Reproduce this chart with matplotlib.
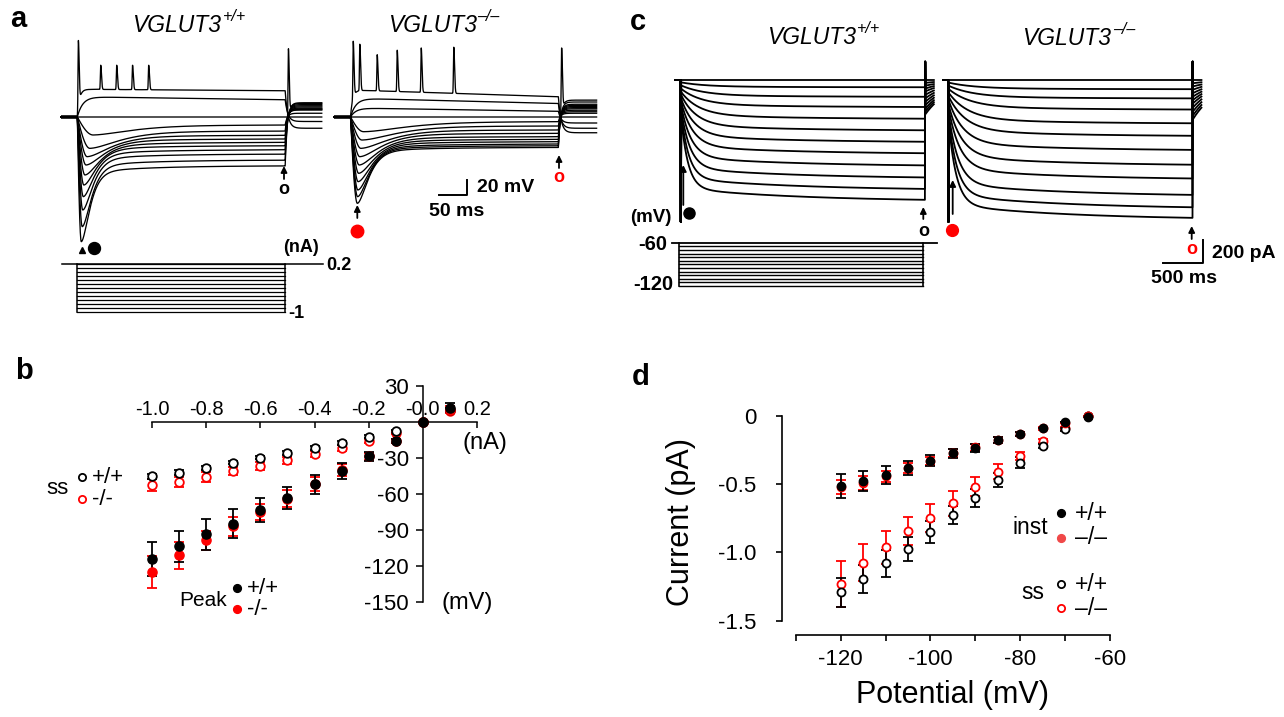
import numpy as np
import matplotlib
matplotlib.use("Agg")
import matplotlib.pyplot as plt

plt.rcParams['font.family'] = ['Liberation Sans', 'DejaVu Sans']
plt.rcParams['axes.unicode_minus'] = False

W, H = 1284, 717
fig = plt.figure(figsize=(W / 100, H / 100), dpi=100)
RED = '#ff0000'

# ===================== DATA =====================
# ---- panel a : current-clamp responses (mV relative to rest) ----
a_step_ms = 380
a_stim_nA = [0.2, 0.1, 0.0, -0.1, -0.2, -0.3, -0.4, -0.5, -0.6, -0.7, -0.8, -0.9, -1.0]
# VGLUT3+/+
a_wt_trough_mV = [-24, -41.8, -52.9, -64, -77.3, -90.7, -106.2, -124, -146.2, -166.2]
a_wt_trough_ms = [29, 23, 18, 16, 14, 12, 11, 10, 9, 7.3]
a_wt_end_mV = [-10.7, -18.7, -24.4, -29.3, -33.8, -38.2, -43.6, -49.3, -57.3, -64.9]
a_wt_after_mV = [5, 9.3, 10, 11, 12, 13.5, 15, 16.5, 18, 19]
a_wt_recov_ms = [45, 35, 28, 22, 18, 15, 13, 12, 11, 10]
a_wt_dep_plateau = [37, 27, 0]
a_wt_dep_end = [35, 23, 0]
a_wt_dep_after = [-15, -6, 0]
a_wt_spike_ms = [2, 42.8, 72, 101, 130.5]
a_wt_spike_mV = [102, 69, 69, 69, 69]
a_wt_rebound_mV = 91
# VGLUT3-/-
a_ko_trough_mV = [-19.6, -30.7, -41.8, -52.9, -64, -75.1, -86.2, -97.3, -106.2, -115.1]
a_ko_trough_ms = [24, 21, 19, 17, 16, 15, 14, 13.5, 13, 12.5]
a_ko_end_mV = [-6.2, -12, -17.3, -21.8, -26.2, -29.8, -32.9, -36, -38.2, -40.4]
a_ko_after_mV = [5, 7, 9, 11, 12.5, 14, 15.5, 17, 20, 22.5]
a_ko_recov_ms = [50, 40, 32, 26, 22, 19, 17, 15, 14, 13]
a_ko_dep_plateau = [36, 25, 12, 0]
a_ko_dep_end = [27, 18, 7.6, 0]
a_ko_dep_after = [-21, -15, -8, 0]
a_ko_spike_ms = [5, 17, 48.8, 85.4, 129.3, 188.8]
a_ko_spike_mV = [101, 97, 83, 89, 92, 93]
a_ko_rebound_mV = 92

# ---- panel b : V-I relation ----
b_nA = [-1.0, -0.9, -0.8, -0.7, -0.6, -0.5, -0.4, -0.3, -0.2, -0.1, 0.0, 0.1]
b_ss_wt = [-45.3, -42.2, -38.1, -33.9, -29.7, -25.8, -21.7, -17.5, -12.2, -7.8, 0, 10.3]
b_ss_wt_err = [2, 2, 1.5, 1.5, 1.5, 1.5, 1.5, 1.5, 1.5, 1, 0, 1]
b_ss_ko = [-52.8, -50, -45.8, -40.8, -36.7, -31.9, -26.9, -21.7, -15.8, -8.9, 0, 9.2]
b_ss_ko_err = [5, 4, 4, 3.5, 3, 3, 2.5, 2.5, 2, 1.5, 0, 1]
b_pk_wt = [-114.2, -103.6, -93.6, -84.7, -73.1, -63.1, -51.9, -40.8, -28.6, -15.8, 0, 12]
b_pk_wt_err = [14, 13, 13, 12, 10, 9, 8, 6.5, 4, 1.5, 0, 4]
b_pk_ko = [-125, -111.1, -98.6, -86.9, -75, -63.9, -51.9, -40.3, -28.6, -15.8, 0, 10.3]
b_pk_ko_err = [13.5, 11, 8, 8, 7, 7, 6, 5, 3, 1.5, 0, 3]
b_xticks = [-1.0, -0.8, -0.6, -0.4, -0.2, 0.0, 0.2]
b_xticklabels = ['-1.0', '-0.8', '-0.6', '-0.4', '-0.2', '-0.0', '0.2']
b_yticks = [30, -30, -60, -90, -120, -150]

# ---- panel c : voltage-clamp Ih currents (pA) ----
c_step_ms = 3000
c_stim_mV = [-65, -70, -75, -80, -85, -90, -95, -100, -105, -110, -115, -120]
c_hold_mV = -60
c_wt_ss = [0, -63, -146, -235, -337, -438, -538, -638, -744, -849, -949, -1044]
c_wt_inst = [0, -20, -45, -72, -98, -122, -150, -175, -200, -228, -252, -275]
c_wt_tau = [300, 300, 280, 250, 220, 190, 165, 145, 125, 110, 95, 85]
c_wt_tail = [0, -25, -50, -75, -100, -130, -160, -190, -220, -250, -275, -300]
c_ko_ss = [0, -80, -160, -257, -377, -486, -609, -738, -858, -1001, -1109, -1201]
c_ko_inst = [0, -22, -48, -75, -105, -135, -165, -200, -230, -265, -295, -325]
c_ko_tau = [320, 320, 300, 270, 240, 210, 180, 160, 140, 120, 105, 95]
c_ko_tail = [0, -28, -56, -85, -115, -145, -175, -205, -240, -275, -310, -343]
c_cap_on, c_cap_off = -1216, 157

# ---- panel d : I-V relation ----
d_mV = [-120, -115, -110, -105, -100, -95, -90, -85, -80, -75, -70, -65]
d_inst_wt = [-0.513, -0.477, -0.433, -0.379, -0.327, -0.274, -0.232, -0.176, -0.130, -0.088, -0.046, -0.005]
d_inst_wt_err = [0.086, 0.076, 0.067, 0.05, 0.04, 0.035, 0.03, 0.025, 0.015, 0.0, 0.0, 0.0]
d_inst_ko = [-0.52, -0.49, -0.44, -0.38, -0.33, -0.27, -0.23, -0.175, -0.13, -0.09, -0.05, 0.0]
d_inst_ko_err = [0.05, 0.05, 0.04, 0.035, 0.03, 0.03, 0.025, 0.02, 0.015, 0.01, 0.0, 0.0]
d_ss_wt = [-1.290, -1.195, -1.080, -0.973, -0.848, -0.726, -0.599, -0.469, -0.342, -0.218, -0.098, 0.0]
d_ss_wt_err = [0.106, 0.10, 0.098, 0.09, 0.08, 0.065, 0.065, 0.05, 0.04, 0.015, 0.01, 0.0]
d_ss_ko = [-1.229, -1.075, -0.963, -0.843, -0.748, -0.640, -0.518, -0.408, -0.293, -0.183, -0.09, 0.0]
d_ss_ko_err = [0.17, 0.137, 0.122, 0.105, 0.103, 0.093, 0.068, 0.056, 0.032, 0.015, 0.01, 0.0]


# ===================== HELPERS =====================
def px_axes(left, top, right, bottom, x0, y0, sx, sy):
    ax = fig.add_axes([left / W, 1 - bottom / H, (right - left) / W, (bottom - top) / H])
    ax.set_xlim((left - x0) / sx, (right - x0) / sx)
    ax.set_ylim((y0 - bottom) / sy, (y0 - top) / sy)
    ax.axis('off')
    return ax


def spike(t, t0, rise=0.9, decay=2.0):
    d = t - t0
    w = np.where(d < 0, rise, decay)
    return np.exp(-(d / w) ** 2)


def hyp_trace(t, trough, tp, end, after, T, tau_r):
    v = np.zeros_like(t)
    m1 = (t >= 0) & (t < tp)
    v[m1] = trough * np.sin(0.5 * np.pi * t[m1] / tp)
    m2 = (t >= tp) & (t <= T)
    x = (t[m2] - tp) / tau_r
    sag = 0.15 * end
    v[m2] = end + sag * np.exp(-(t[m2] - tp) / 110.0) + (trough - end - sag) * (1 + x) * np.exp(-x)
    m3 = t > T
    v[m3] = after + (end - after) * np.exp(-(t[m3] - T) / 4.0)
    return v


def dep_trace(t, plateau, end, after, T, tau_on):
    v = np.zeros_like(t)
    on = (t >= 0) & (t <= T)
    v[on] = (plateau + (end - plateau) * t[on] / T) * (1 - np.exp(-t[on] / tau_on))
    off = t > T
    v[off] = after + (end - after) * np.exp(-(t[off] - T) / 5.0)
    return v


def ih_trace(t, inst, ss, tau_f, T, tail):
    i = np.zeros_like(t)
    on = (t >= 0) & (t <= T)
    frac = 0.85 * np.exp(-t[on] / tau_f) + 0.15 * np.exp(-t[on] / 1500.0)
    i[on] = ss + (inst - ss) * frac
    i[(t >= 0) & (t < 6)] = c_cap_on
    off = t > T
    i[off] = tail * np.exp(-(t[off] - T) / 300.0)
    i[(t > T) & (t < T + 6)] = c_cap_off
    return i


def draw_a(ax, t, troughs, tps, ends, afters, recovs, dep_pl, dep_end, dep_after,
           sp_t, sp_v, rebound):
    T = a_step_ms
    for k in range(len(dep_pl)):
        tau_on = 4.0 if k == 0 else 10.0
        base = dep_trace(t, dep_pl[k], dep_end[k], dep_after[k], T, tau_on)
        v = base.copy()
        if k == 0:
            for ts, pk in zip(sp_t, sp_v):
                v = v + (pk - base) * spike(t, ts)
        ax.plot(t, v, color='k', lw=0.95)
    n = len(troughs)
    for k in range(n):
        v = hyp_trace(t, troughs[k], tps[k], ends[k], afters[k], T, recovs[k])
        if k == n - 1:
            v = v + (rebound - v) * spike(t, T + 6, 1.0, 2.0)
        ax.plot(t, v, color='k', lw=0.95)
    ax.plot([t[0], 0], [0, 0], color='k', lw=2.6, solid_capstyle='butt')


# ===================== PANEL a =====================
ax_a1 = px_axes(50, 20, 330, 262, 77.3, 117, 0.547, 0.75)
t_a1 = np.arange(-30, 447, 0.1)
draw_a(ax_a1, t_a1, a_wt_trough_mV, a_wt_trough_ms, a_wt_end_mV, a_wt_after_mV, a_wt_recov_ms,
       a_wt_dep_plateau, a_wt_dep_end, a_wt_dep_after, a_wt_spike_ms, a_wt_spike_mV, a_wt_rebound_mV)

ax_a2 = px_axes(325, 20, 605, 262, 350.5, 117, 0.547, 0.75)
t_a2 = np.arange(-30, 450, 0.1)
draw_a(ax_a2, t_a2, a_ko_trough_mV, a_ko_trough_ms, a_ko_end_mV, a_ko_after_mV, a_ko_recov_ms,
       a_ko_dep_plateau, a_ko_dep_end, a_ko_dep_after, a_ko_spike_ms, a_ko_spike_mV, a_ko_rebound_mV)

# stimulus (nA)
ax_sa = px_axes(50, 255, 330, 320, 77.3, 271.95, 0.547, 39.75)
top_a, bot_a = max(a_stim_nA), min(a_stim_nA)
ax_sa.plot([-28, 449], [top_a, top_a], color='k', lw=1.1)
for lvl in a_stim_nA:
    ax_sa.plot([0, a_step_ms], [lvl, lvl], color='k', lw=0.9)
ax_sa.plot([0, 0], [top_a, bot_a], color='k', lw=1.1)
ax_sa.plot([a_step_ms, a_step_ms], [top_a, bot_a], color='k', lw=1.1)

# ===================== PANEL c =====================
t_c = np.arange(-70, 3112, 2.0)
ax_c1 = px_axes(655, 50, 940, 232, 680.7, 80, 0.0814, 0.1165)
for k in range(len(c_wt_ss)):
    ax_c1.plot(t_c, ih_trace(t_c, c_wt_inst[k], c_wt_ss[k], c_wt_tau[k], c_step_ms, c_wt_tail[k]),
               color='k', lw=1.3)
ax_c2 = px_axes(935, 50, 1215, 232, 948.3, 80, 0.0814, 0.1165)
t_c2 = np.arange(-60, 3112, 2.0)
for k in range(len(c_ko_ss)):
    ax_c2.plot(t_c2, ih_trace(t_c2, c_ko_inst[k], c_ko_ss[k], c_ko_tau[k], c_step_ms, c_ko_tail[k]),
               color='k', lw=1.3)

ax_sc = px_axes(655, 235, 940, 295, 678.5, 199.4, 0.0814, 0.722)
ax_sc.plot([-83, 3170], [c_hold_mV, c_hold_mV], color='k', lw=1.3)
for lvl in c_stim_mV:
    ax_sc.plot([0, c_step_ms], [lvl, lvl], color='k', lw=1.0)
ax_sc.plot([0, 0], [c_hold_mV, min(c_stim_mV)], color='k', lw=1.2)
ax_sc.plot([c_step_ms, c_step_ms], [c_hold_mV, min(c_stim_mV)], color='k', lw=1.2)

# ===================== PANEL b =====================
ax_b = fig.add_axes([152 / W, 1 - 602 / H, 325 / W, 216 / H])
ax_b.set_xlim(-1.0, 0.2)
ax_b.set_ylim(-150, 30)
ax_b.patch.set_alpha(0)
for s in ['right', 'bottom']:
    ax_b.spines[s].set_visible(False)
ax_b.spines['left'].set_position(('data', 0))
ax_b.spines['top'].set_position(('data', 0))
for s in ['left', 'top']:
    ax_b.spines[s].set_linewidth(1.1)
ax_b.xaxis.set_ticks_position('top')
ax_b.set_xticks(b_xticks)
ax_b.set_xticklabels(b_xticklabels)
ax_b.tick_params(axis='x', direction='in', length=4, width=1.1, pad=2, labelsize=14.5)
ax_b.yaxis.set_ticks_position('left')
ax_b.set_yticks(b_yticks)
ax_b.set_yticklabels([str(v) for v in b_yticks])
ax_b.tick_params(axis='y', direction='out', length=5, width=1.1, pad=5, labelsize=16)

ekw = dict(fmt='o', capsize=3.5, elinewidth=1.3, capthick=1.3, clip_on=False)
ax_b.errorbar(b_nA, b_ss_ko, yerr=b_ss_ko_err, ms=6.2, mfc='white', mec=RED, mew=1.3, ecolor=RED, **ekw)
ax_b.errorbar(b_nA, b_ss_wt, yerr=b_ss_wt_err, ms=6.2, mfc='white', mec='k', mew=1.3, ecolor='k', **ekw)
ax_b.errorbar(b_nA, b_pk_ko, yerr=b_pk_ko_err, ms=6.6, mfc=RED, mec=RED, ecolor=RED, **ekw)
ax_b.errorbar(b_nA, b_pk_wt, yerr=b_pk_wt_err, ms=6.6, mfc='k', mec='k', ecolor='k', **ekw)

# ===================== PANEL d =====================
ax_d = fig.add_axes([795.7 / W, 1 - 620.7 / H, 314.3 / W, 204.7 / H])
ax_d.set_xlim(-130, -60)
ax_d.set_ylim(-1.5, 0)
ax_d.patch.set_alpha(0)
for s in ['right', 'top']:
    ax_d.spines[s].set_visible(False)
ax_d.spines['left'].set_position(('outward', 10.1))
ax_d.spines['bottom'].set_position(('outward', 10.3))
for s in ['left', 'bottom']:
    ax_d.spines[s].set_linewidth(1.2)
ax_d.set_xticks([-120, -100, -80, -60])
ax_d.set_xticklabels(['-120', '-100', '-80', '-60'])
ax_d.set_xticks([-130, -110, -90, -70], minor=True)
ax_d.set_yticks([0, -0.5, -1.0, -1.5])
ax_d.set_yticklabels(['0', '-0.5', '-1.0', '-1.5'])
ax_d.tick_params(which='both', direction='out', length=4, width=1.2, labelsize=16)
ax_d.tick_params(axis='x', which='both', pad=6)
ax_d.tick_params(axis='y', pad=14)

ekd = dict(fmt='o', capsize=3.5, elinewidth=1.3, capthick=1.3, clip_on=False)
ax_d.errorbar(d_mV, d_ss_ko, yerr=d_ss_ko_err, ms=5.8, mfc='white', mec=RED, mew=1.3, ecolor=RED, **ekd)
ax_d.errorbar(d_mV, d_ss_wt, yerr=d_ss_wt_err, ms=5.8, mfc='white', mec='k', mew=1.3, ecolor='k', **ekd)
ax_d.errorbar(d_mV, d_inst_ko, yerr=d_inst_ko_err, ms=6.0, mfc=RED, mec=RED, ecolor=RED, **ekd)
ax_d.errorbar(d_mV, d_inst_wt, yerr=d_inst_wt_err, ms=6.0, mfc='k', mec='k', ecolor='k', **ekd)

# ===================== OVERLAY (annotations in pixel space) =====================
ov = fig.add_axes([0, 0, 1, 1], zorder=10)
ov.patch.set_alpha(0)
ov.set_xlim(0, W)
ov.set_ylim(H, 0)
ov.axis('off')


def T(x, y, s, **kw):
    ov.text(x, y, s, **kw)


def arrow(x, y_tail, y_tip, color='k'):
    ov.annotate('', xy=(x, y_tip), xytext=(x, y_tail),
                arrowprops=dict(arrowstyle='-|>', color=color, lw=1.3, mutation_scale=9,
                                shrinkA=0, shrinkB=0))


# panel letters
for lab, x, y in [('a', 18, 19), ('b', 24, 371), ('c', 638, 22), ('d', 641, 377)]:
    T(x, y, lab, fontsize=21, fontweight='bold', ha='center', va='center')

# titles
for x, y, xs, ys, sup in [(131.7, 31.7, 222.7, 21, '+/+'), (388.3, 32.3, 476.7, 21, '\u2013/\u2013'),
                          (766.7, 44, 856.7, 33, '+/+'), (1021.7, 45, 1113.3, 34, '\u2013/\u2013')]:
    T(x, y, 'VGLUT3', fontsize=16.5, style='italic', ha='left', va='baseline')
    T(xs, ys, sup, fontsize=11.5, style='italic', ha='left', va='baseline')

# panel a annotations
ov.plot([81.7], [250], marker='^', color='k', ms=4.5)
ov.plot([94.3], [247.7], marker='o', color='k', ms=8.6)
arrow(284, 179, 166)
T(284, 190, 'o', fontsize=13, fontweight='bold', ha='center', va='center')
arrow(357.3, 218, 205)
ov.plot([357.3], [230.7], marker='o', color=RED, ms=9)
arrow(559, 168, 155)
T(559, 178, 'o', fontsize=13, fontweight='bold', ha='center', va='center', color=RED)
ov.plot([439.3, 466.7, 466.7], [195, 195, 180], color='k', lw=1.4)
T(477, 187, '20 mV', fontsize=14, fontweight='bold', ha='left', va='center')
T(456.5, 211, '50 ms', fontsize=14, fontweight='bold', ha='center', va='center')
T(300.5, 247, '(nA)', fontsize=13, fontweight='bold', ha='center', va='center')
T(326, 265, '0.2', fontsize=13, fontweight='bold', ha='left', va='center')
T(288, 313, '-1', fontsize=13, fontweight='bold', ha='left', va='center')

# panel c annotations
arrow(683.3, 205, 165)
ov.plot([689.3], [213.3], marker='o', color='k', ms=8)
arrow(923.3, 219, 207)
T(923.3, 232, 'o', fontsize=13, fontweight='bold', ha='center', va='center')
arrow(952.7, 214, 180, color='k')
ov.plot([952.3], [230], marker='o', color=RED, ms=8.5)
arrow(1191.7, 239, 226)
T(1191.7, 249.5, 'o', fontsize=13, fontweight='bold', ha='center', va='center', color=RED)
ov.plot([1162.7, 1203.3, 1203.3], [263.3, 263.3, 240], color='k', lw=1.4)
T(1211.7, 254, '200 pA', fontsize=14, fontweight='bold', ha='left', va='center')
T(1184, 278.5, '500 ms', fontsize=14, fontweight='bold', ha='center', va='center')
T(651, 217, '(mV)', fontsize=13.5, fontweight='bold', ha='center', va='center')
T(667, 245, '-60', fontsize=14.5, fontweight='bold', ha='right', va='center')
T(673, 285, '-120', fontsize=14.5, fontweight='bold', ha='right', va='center')

# panel b labels / legend
T(485, 443, '(nA)', fontsize=17, ha='center', va='center')
T(467, 603, '(mV)', fontsize=17, ha='center', va='center')
T(57.5, 488.3, 'ss', fontsize=16, ha='center', va='center')
ov.plot([81.7], [477.3], 'o', ms=5.2, mfc='white', mec='k', mew=1.3)
ov.plot([81.7], [499.3], 'o', ms=5.2, mfc='white', mec=RED, mew=1.3)
T(92, 477.3, '+/+', fontsize=16, ha='left', va='center')
T(92, 499.3, '-/-', fontsize=16, ha='left', va='center')
T(203.3, 600, 'Peak', fontsize=15, ha='center', va='center')
ov.plot([237.3], [588.3], 'o', ms=5.6, color='k')
ov.plot([237.3], [609.3], 'o', ms=5.6, color=RED)
T(247, 588.3, '+/+', fontsize=16, ha='left', va='center')
T(247, 609.3, '-/-', fontsize=16, ha='left', va='center')

# panel d labels / legend
T(681, 522, 'Current (pA)', fontsize=22, rotation=90, ha='center', va='center')
T(953, 695, 'Potential (mV)', fontsize=22, ha='center', va='center')
T(1030.3, 527.7, 'inst', fontsize=16.5, ha='center', va='center')
ov.plot([1061], [513], 'o', ms=5.6, color='k')
ov.plot([1061], [537.5], 'o', ms=5.6, color='#f04848')
T(1075, 513, '+/+', fontsize=16.5, ha='left', va='center')
T(1075, 537.5, '\u2013/\u2013', fontsize=16.5, ha='left', va='center')
T(1032.5, 592.7, 'ss', fontsize=16.5, ha='center', va='center')
ov.plot([1061], [584.3], 'o', ms=5.2, mfc='white', mec='k', mew=1.3)
ov.plot([1061], [608.3], 'o', ms=5.2, mfc='white', mec=RED, mew=1.3)
T(1075, 584.3, '+/+', fontsize=16.5, ha='left', va='center')
T(1075, 608.3, '\u2013/\u2013', fontsize=16.5, ha='left', va='center')

fig.savefig('out.png', dpi=100)
